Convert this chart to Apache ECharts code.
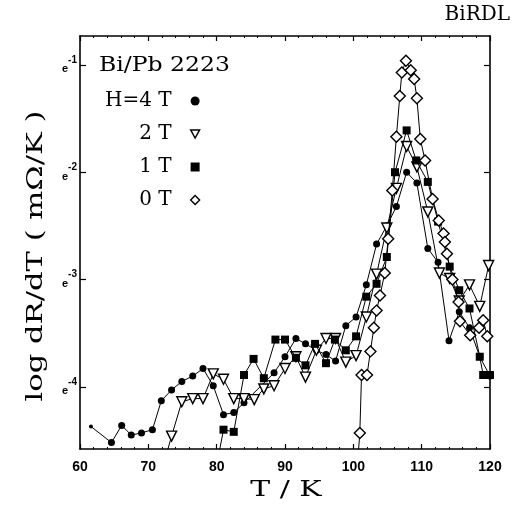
<!DOCTYPE html>
<html>
<head>
<meta charset="utf-8">
<script src="https://cdn.jsdelivr.net/npm/echarts@6/dist/echarts.min.js"></script>
<style>
  html, body { margin: 0; padding: 0; background: #fff; }
  #chart { width: 514px; height: 507px; }
</style>
</head>
<body>
<div id="chart"></div>
<script>
// Temperature ticks (K) and log-axis exponents (natural log of dR/dT in mOhm/K)
const xTickValues = [60, 70, 80, 90, 100, 110, 120];
const yTickExponents = [-4, -3, -2, -1];

// H = 4 T
const temps4T = [61.6, 64.6, 66.1, 67.5, 69.0, 70.6, 71.9, 73.4, 74.9, 76.5, 78.0, 79.5, 81.0, 82.5, 84.0, 88.4, 90.0, 91.6, 93.0, 94.6, 96.0, 97.4, 98.9, 100.4, 101.9, 103.4, 104.9, 106.3, 107.8, 109.3, 110.9, 112.4, 114.0, 115.5, 117.0, 118.5, 120.0];
const lnR4T = [-4.37, -4.52, -4.36, -4.45, -4.43, -4.40, -4.13, -4.03, -3.95, -3.90, -3.83, -3.99, -4.26, -4.24, -4.15, -3.87, -3.72, -3.55, -3.60, -3.66, -3.70, -3.76, -3.43, -3.35, -3.05, -2.67, -2.50, -2.32, -2.00, -2.10, -2.71, -2.84, -3.57, -3.30, -3.45, -3.72, -3.90];

// H = 2 T
const temps2T = [71.9, 73.4, 74.9, 76.5, 78.0, 79.5, 81.0, 82.5, 84.0, 85.5, 86.9, 88.4, 90.0, 91.6, 93.0, 94.6, 96.0, 97.4, 98.9, 100.4, 101.9, 103.4, 104.9, 106.3, 107.8, 109.3, 110.9, 112.6, 114.1, 115.5, 117.0, 118.5, 119.8];
const lnR2T = [-4.80, -4.46, -4.14, -4.11, -4.11, -3.88, -3.93, -4.11, -4.11, -4.12, -4.02, -3.99, -3.83, -3.72, -3.91, -3.66, -3.55, -3.55, -3.77, -3.71, -3.35, -2.95, -2.52, -2.15, -1.76, -1.95, -2.37, -2.94, -2.99, -3.20, -3.05, -3.25, -2.87];

// H = 1 T
const temps1T = [79.5, 81.0, 82.5, 84.0, 85.4, 86.9, 88.6, 90.0, 91.6, 93.0, 94.4, 96.0, 97.3, 98.9, 100.4, 101.9, 103.4, 104.9, 106.1, 107.8, 109.2, 110.9, 112.4, 114.1, 115.5, 117.0, 118.5, 119.0, 120.0];
const lnR1T = [-4.90, -4.40, -4.42, -3.89, -3.74, -3.92, -3.56, -3.56, -3.73, -3.80, -3.60, -3.78, -3.56, -3.66, -3.53, -3.16, -3.04, -2.79, -2.00, -1.61, -1.89, -2.09, -2.46, -2.88, -3.10, -3.27, -3.72, -3.89, -3.89];

// H = 0 T
const temps0T = [100.4, 100.95, 101.2, 102.0, 102.5, 103.0, 103.4, 103.9, 104.6, 105.1, 105.7, 106.3, 106.8, 107.1, 107.7, 108.4, 108.9, 109.3, 109.8, 110.5, 111.6, 112.5, 113.2, 113.4, 113.7, 114.5, 115.4, 115.6, 117.1, 118.4, 119.0, 119.6];
const lnR0T = [-4.90, -4.43, -3.89, -3.89, -3.67, -3.45, -3.29, -3.15, -2.94, -2.62, -2.17, -1.67, -1.29, -1.07, -0.96, -1.05, -1.13, -1.31, -1.69, -1.89, -2.25, -2.45, -2.57, -2.65, -2.76, -3.00, -3.21, -3.39, -3.52, -3.45, -3.38, -3.53];

const seriesNames = ['H=4 T', '2 T', '1 T', '0 T'];

const SERIF = "'DejaVu Serif', 'Liberation Serif', serif";
const SANS = "'Liberation Sans', Arial, sans-serif";
const Y_MIN = -4.58, Y_MAX = -0.73;

function pairs(t, v) { return t.map((x, i) => [x, v[i]]); }

const chart = echarts.init(document.getElementById('chart'), null, { renderer: 'canvas' });

const lineStyle = { color: '#000', width: 1 };
const openMark = { color: '#fff', borderColor: '#000', borderWidth: 1.4 };
const solidMark = { color: '#000', borderColor: '#000', borderWidth: 0 };
const downTriangle = 'path://M0,0L10,0L5,9Z';

const data4T = pairs(temps4T, lnR4T);
data4T[0] = { value: data4T[0], symbolSize: 4 };

const xCommon = {
  type: 'value', min: 60, max: 120, interval: 10,
  axisLine: { show: true, onZero: false, lineStyle: { color: '#000', width: 1.6 } },
  axisTick: { show: true, inside: true, length: 5, lineStyle: { color: '#000', width: 1.2 } },
  minorTick: { show: true, splitNumber: 5, length: 2, lineStyle: { color: '#000', width: 1 } },
  splitLine: { show: false },
  minorSplitLine: { show: false }
};

const yCommon = {
  type: 'value', min: Y_MIN, max: Y_MAX,
  axisLine: { show: true, onZero: false, lineStyle: { color: '#000', width: 1.6 } },
  axisTick: { show: true, inside: true, length: 6, customValues: yTickExponents, lineStyle: { color: '#000', width: 1.2 } },
  splitLine: { show: false }
};

const titleFont = { fontFamily: SERIF, fontSize: 21, fill: '#000' };

chart.setOption({
  animation: false,
  backgroundColor: '#fff',
  graphic: [
    { type: 'text', x: 510, y: 15, style: Object.assign({ text: 'BiRDL', align: 'right', verticalAlign: 'middle' }, titleFont, { fontSize: 20 }) },
    { type: 'text', x: 99, y: 66, scaleX: 1.12, style: Object.assign({ text: 'Bi/Pb 2223', align: 'left', verticalAlign: 'middle' }, titleFont) },
    { type: 'text', x: 36, y: 256, rotation: Math.PI / 2, scaleX: 1.33,
      style: Object.assign({ text: 'log dR/dT ( m\u03A9/K )', align: 'center', verticalAlign: 'middle' }, titleFont, { fontSize: 23 }) },
    { type: 'text', x: 286, y: 490, scaleX: 1.3,
      style: Object.assign({ text: 'T / K', align: 'center', verticalAlign: 'middle' }, titleFont, { fontSize: 23 }) }
  ],
  legend: {
    orient: 'vertical', left: 100, top: 86, align: 'right',
    itemWidth: 9, itemHeight: 9, itemGap: 13,
    formatter: name => '{a|' + name + '}{b| }',
    textStyle: {
      color: '#000',
      rich: {
        a: { width: 62, align: 'right', fontFamily: SERIF, fontSize: 20, color: '#000', lineHeight: 22 },
        b: { width: 14, fontSize: 20, lineHeight: 22 }
      }
    },
    data: [
      { name: seriesNames[0], icon: 'circle', itemStyle: solidMark },
      { name: seriesNames[1], icon: downTriangle, itemStyle: openMark },
      { name: seriesNames[2], icon: 'rect', itemStyle: solidMark },
      { name: seriesNames[3], icon: 'diamond', itemStyle: openMark }
    ],
    selectedMode: false
  },
  grid: { left: 80, right: 24, top: 36, bottom: 58, containLabel: false },
  xAxis: [
    Object.assign({}, xCommon, {
      position: 'bottom',
      axisLabel: { show: true, margin: 11, fontSize: 14, color: '#000', fontFamily: SANS, fontWeight: 'bold',
        customValues: xTickValues }
    }),
    Object.assign({}, xCommon, { position: 'top', axisLabel: { show: false } })
  ],
  yAxis: [
    Object.assign({}, yCommon, {
      position: 'left',
      axisLabel: {
        show: true, margin: 3, customValues: yTickExponents,
        formatter: v => '{e|e}{s|' + Math.round(v) + '}',
        rich: {
          e: { fontSize: 11, color: '#000', lineHeight: 20, verticalAlign: 'bottom', fontFamily: SANS, fontWeight: 'bold' },
          s: { fontSize: 10, color: '#000', lineHeight: 20, verticalAlign: 'top', fontFamily: SANS, fontWeight: 'bold' }
        }
      }
    }),
    Object.assign({}, yCommon, { position: 'right', axisLabel: { show: false } })
  ],
  series: [
    { name: seriesNames[0], type: 'line', data: data4T, symbol: 'circle', symbolSize: 7,
      itemStyle: solidMark, lineStyle: lineStyle, z: 3 },
    { name: seriesNames[1], type: 'line', data: pairs(temps2T, lnR2T), symbol: 'triangle', symbolRotate: 180, symbolSize: 10,
      itemStyle: openMark, lineStyle: lineStyle, z: 4 },
    { name: seriesNames[2], type: 'line', data: pairs(temps1T, lnR1T), symbol: 'rect', symbolSize: 8,
      itemStyle: solidMark, lineStyle: lineStyle, z: 5 },
    { name: seriesNames[3], type: 'line', data: pairs(temps0T, lnR0T), symbol: 'diamond', symbolSize: 11,
      itemStyle: openMark, lineStyle: lineStyle, z: 6 }
  ].map(s => Object.assign(s, { clip: true, showAllSymbol: true, xAxisIndex: 0, yAxisIndex: 0 }))
});
</script>
</body>
</html>
